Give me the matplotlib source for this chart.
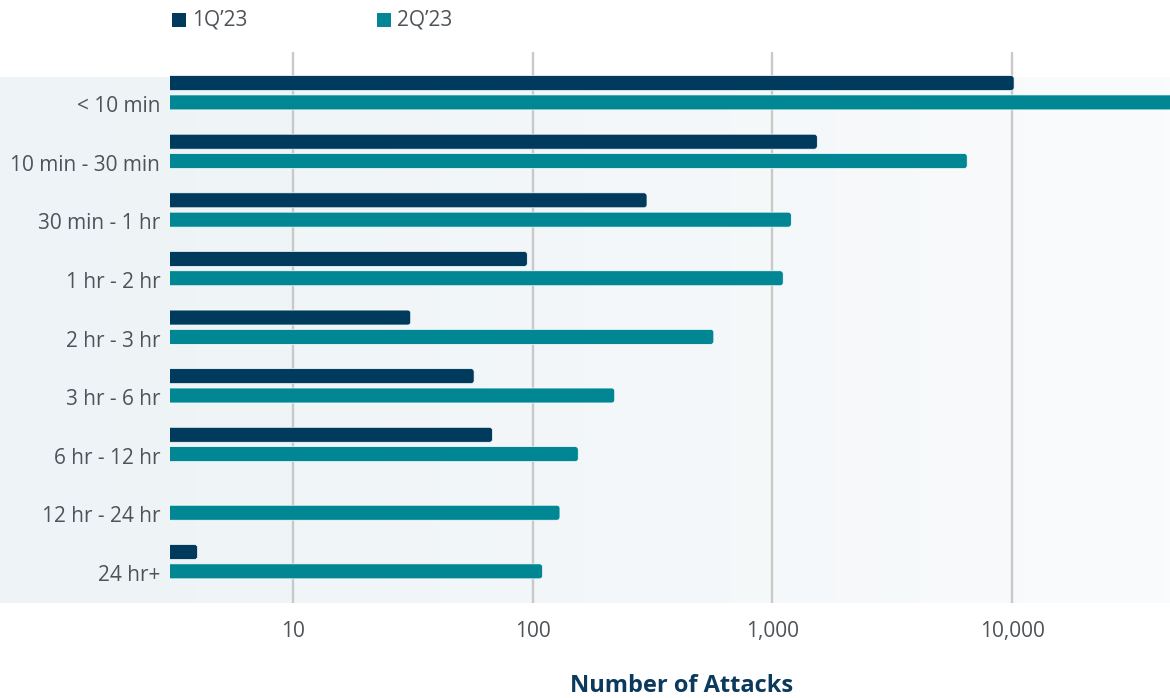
import matplotlib
matplotlib.use("Agg")
import matplotlib.pyplot as plt
import numpy as np
from matplotlib.patches import FancyBboxPatch, Rectangle
from matplotlib.colors import LinearSegmentedColormap
from matplotlib.transforms import IdentityTransform

categories = ["< 10 min", "10 min - 30 min", "30 min - 1 hr", "1 hr - 2 hr",
              "2 hr - 3 hr", "3 hr - 6 hr", "6 hr - 12 hr", "12 hr - 24 hr", "24 hr+"]
q1_2023 = [10200, 1540, 300, 95, 31, 57, 68, 3, 4]
q2_2023 = [48000, 6500, 1200, 1110, 570, 220, 155, 130, 110]
series_names = ["1Q\u201923", "2Q\u201923"]
x_ticks = [10, 100, 1000, 10000]
x_tick_labels = ["10", "100", "1,000", "10,000"]

NAVY = "#003a5c"
TEAL = "#008793"
TEXT = "#4d5358"

plt.rcParams['font.family'] = ['Open Sans', 'DejaVu Sans']

FW, FH, DPI = 1170, 698, 100
fig = plt.figure(figsize=(FW / DPI, FH / DPI), dpi=DPI)

# shaded band behind the chart rows
bg = fig.add_axes([0, (FH - 603) / FH, 1, (603 - 77) / FH], zorder=0)
grad = np.linspace(0, 1, 256).reshape(1, -1)
cmap = LinearSegmentedColormap.from_list('band', ['#edf3f6', '#f3f7f9', '#fafbfc'])
bg.imshow(grad, aspect='auto', cmap=cmap, extent=[0, 1, 0, 1])
bg.axis('off')

ax = fig.add_axes([170 / FW, (FH - 603) / FH, 1000 / FW, (603 - 52) / FH], zorder=1)
ax.patch.set_alpha(0)
ax.set_xscale('log')
ax.set_xlim(3.07, 45600)
ax.set_ylim(8.87, -0.53)

offset = 0.33
bar_h = 0.255
rows = np.arange(len(categories))

ax.set_xticks(x_ticks)
ax.set_xticklabels(x_tick_labels)
ax.minorticks_off()
ax.xaxis.grid(True, color='#c9c9c9', linewidth=1.7, zorder=0)
ax.set_axisbelow(True)
ax.set_yticks(rows + offset + 0.03)
ax.set_yticklabels(categories)
ax.tick_params(axis='x', length=0, pad=13, labelsize=15, labelcolor=TEXT)
ax.tick_params(axis='y', length=0, pad=7, labelsize=15, labelcolor=TEXT)
for s in ax.spines.values():
    s.set_visible(False)

# bars with rounded right ends, laid out in display space from data coords
left_px = ax.transData.transform((3.07, 0))[0] - 8
for vals, color, dy in [(q1_2023, NAVY, 0.0), (q2_2023, TEAL, offset)]:
    for i, v in enumerate(vals):
        x1 = ax.transData.transform((v, 0))[0]
        ya = ax.transData.transform((1, i + dy - bar_h / 2))[1]
        yb = ax.transData.transform((1, i + dy + bar_h / 2))[1]
        y0, y1 = min(ya, yb), max(ya, yb)
        w = max(x1 - left_px, 1)
        p = FancyBboxPatch((left_px, y0), w, y1 - y0,
                           boxstyle="round,pad=0,rounding_size=3",
                           facecolor=color, edgecolor='white', linewidth=0.5,
                           transform=IdentityTransform(), zorder=2)
        p.set_clip_path(ax.patch)
        ax.add_artist(p)

# legend
for name, color, x in [(series_names[0], NAVY, 172), (series_names[1], TEAL, 377)]:
    fig.patches.append(Rectangle((x / FW, 1 - 27 / FH), 14 / FW, 14 / FH,
                                 transform=fig.transFigure, facecolor=color,
                                 edgecolor='none'))
    fig.text((x + 20) / FW, 1 - 20 / FH, name, fontsize=15, color=TEXT,
             va='center', ha='left')

fig.text(682 / FW, 1 - 686 / FH, "Number of Attacks", fontsize=17,
         fontweight='bold', color='#0b3a5c', ha='center', va='center')

fig.savefig("out.png", dpi=DPI)
